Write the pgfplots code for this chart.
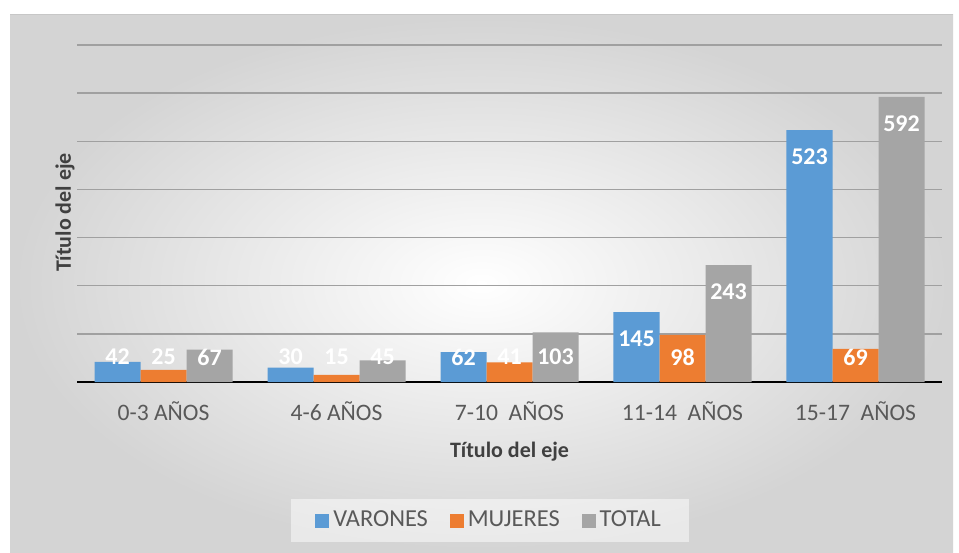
\documentclass[border=0pt]{standalone}
\usepackage{fontspec}
\setmainfont{Carlito}
\usepackage{pgfplots}
\pgfplotsset{compat=1.18}
\definecolor{cblue}{HTML}{5B9BD5}
\definecolor{corange}{HTML}{ED7D31}
\definecolor{cgray}{HTML}{A5A5A5}
\definecolor{ticktext}{HTML}{595959}
\definecolor{titletext}{HTML}{404040}
\definecolor{gridc}{HTML}{A0A0A0}
\begin{document}
\begin{tikzpicture}
\fill[white] (0,0) rectangle (479.5pt,276pt);
\shade[inner color=white, outer color=black!17] (5pt,0pt) rectangle (476.5pt,268.5pt);
\draw[black!22, line width=0.5pt] (5pt,268.5pt) -- (476.5pt,268.5pt);
\begin{axis}[
  at={(38.5pt,85pt)}, anchor=south west,
  scale only axis, width=432.5pt, height=168.5pt,
  xmin=-0.5, xmax=4.5, ymin=0, ymax=700,
  ybar=0pt, bar width=23pt,
  axis lines*=left,
  x axis line style={black, line width=1pt},
  y axis line style={draw=none},
  xtick={0,1,2,3,4},
  xticklabels={0-3 AÑOS, 4-6 AÑOS, 7-10\ \ AÑOS, 11-14\ \ AÑOS, 15-17\ \ AÑOS},
  ytick={100,200,...,700}, yticklabels={},
  major tick length=0pt,
  ymajorgrids, grid style={gridc, line width=0.75pt},
  /pgf/number format/assume math mode=true,
  xticklabel style={font=\fontsize{11.8}{13}\selectfont, text=ticktext, anchor=base, yshift=-19.5pt},
  xlabel={Título del eje}, ylabel={Título del eje},
  xlabel style={font=\bfseries\fontsize{11}{13}\selectfont, text=titletext, at={(axis description cs:0.5,0)}, anchor=base, yshift=-37.5pt},
  ylabel style={font=\bfseries\fontsize{11}{13}\selectfont, text=titletext, at={(axis description cs:-0.007,0.503)}, rotate=0, anchor=base},
  visualization depends on={rawy \as \rawy},
  nodes near coords,
  every node near coord/.append style={font=\bfseries\fontsize{12}{14}\selectfont, text=white, anchor=center, yshift={-min(\rawy-52,56)*0.2407pt}},
  legend columns=3,
  legend style={at={(0.4775,-0.411)}, anchor=center, draw=none, fill=white, fill opacity=0.5, text opacity=1, font=\fontsize{12.2}{13}\selectfont, text=ticktext, inner xsep=12pt, inner ysep=4pt, /tikz/every even column/.append style={column sep=9pt}},
  legend image code/.code={\fill[#1,draw=none,fill opacity=1] (0pt,-3.5pt) rectangle (7pt,3.5pt);},
]
\addplot[fill=cblue, draw=none] coordinates {(0,42) (1,30) (2,62) (3,145) (4,523)};
\addlegendentry{VARONES}
\addplot[fill=corange, draw=none] coordinates {(0,25) (1,15) (2,41) (3,98) (4,69)};
\addlegendentry{MUJERES}
\addplot[fill=cgray, draw=none] coordinates {(0,67) (1,45) (2,103) (3,243) (4,592)};
\addlegendentry{TOTAL}
\end{axis}
\end{tikzpicture}
\end{document}
